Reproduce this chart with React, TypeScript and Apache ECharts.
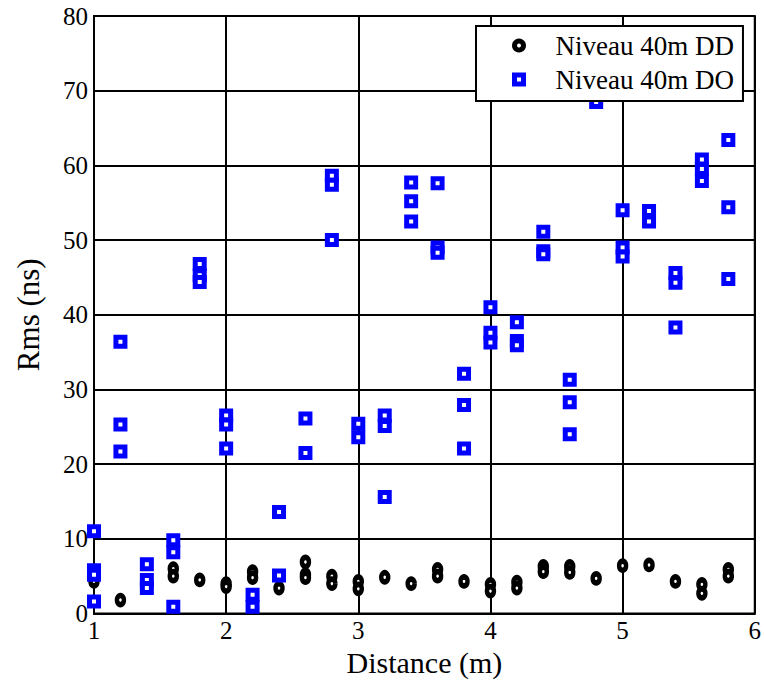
import React, { useEffect, useRef } from "react";
import * as echarts from "echarts";

const xTicks = [1, 2, 3, 4, 5, 6];
const yTicks = [0, 10, 20, 30, 40, 50, 60, 70, 80];

const ddDistance = [1.0, 1.0, 1.2, 1.4, 1.6, 1.6, 1.8, 2.0, 2.0, 2.2, 2.2, 2.4, 2.6, 2.6, 2.6, 2.8, 2.8, 3.0, 3.0, 3.2, 3.4, 3.6, 3.6, 3.8, 4.0, 4.0, 4.2, 4.2, 4.4, 4.4, 4.6, 4.6, 4.8, 5.0, 5.2, 5.4, 5.6, 5.6, 5.8, 5.8];
const ddRms = [5.3, 4.3, 1.8, 4.0, 6.0, 5.0, 4.5, 4.0, 3.6, 5.6, 4.8, 3.4, 6.9, 5.2, 4.8, 5.0, 4.0, 4.3, 3.3, 4.85, 4.0, 5.9, 5.0, 4.3, 3.9, 3.0, 4.2, 3.4, 6.3, 5.6, 6.3, 5.5, 4.7, 6.4, 6.5, 4.3, 3.9, 2.7, 5.9, 5.0];

const doDistance = [1.0, 1.0, 1.0, 1.0, 1.2, 1.2, 1.2, 1.4, 1.4, 1.4, 1.6, 1.6, 1.6, 1.8, 1.8, 1.8, 2.0, 2.0, 2.0, 2.2, 2.2, 2.4, 2.4, 2.6, 2.6, 2.8, 2.8, 2.8, 3.0, 3.0, 3.2, 3.2, 3.2, 3.4, 3.4, 3.4, 3.6, 3.6, 3.6, 3.8, 3.8, 3.8, 4.0, 4.0, 4.0, 4.2, 4.2, 4.2, 4.4, 4.4, 4.4, 4.6, 4.6, 4.6, 4.8, 5.0, 5.0, 5.0, 5.2, 5.2, 5.4, 5.4, 5.4, 5.6, 5.6, 5.6, 5.8, 5.8, 5.8];
const doRms = [11.0, 5.8, 5.2, 1.6, 36.4, 25.3, 21.7, 6.6, 4.5, 3.4, 9.8, 8.2, 0.9, 46.8, 45.3, 44.4, 26.5, 25.3, 22.1, 2.5, 0.9, 13.6, 5.1, 26.1, 21.5, 58.6, 57.4, 50.0, 25.4, 23.6, 26.5, 25.1, 15.6, 57.7, 55.2, 52.5, 57.6, 49.0, 48.3, 32.1, 27.9, 22.1, 41.0, 37.6, 36.3, 39.0, 36.5, 35.9, 51.1, 48.5, 48.1, 31.3, 28.3, 24.0, 68.5, 54.0, 49.0, 47.8, 53.9, 52.5, 45.6, 44.3, 38.3, 60.8, 59.5, 57.9, 63.4, 54.4, 44.8];

const seriesNames = ["Niveau 40m DD", "Niveau 40m DO"];

const FONT = "'Liberation Serif', 'Times New Roman', serif";

export default function App() {
  const ref = useRef<HTMLDivElement>(null);

  useEffect(() => {
    if (!ref.current) return;
    const chart = echarts.init(ref.current, null, { renderer: "svg" });
    const ddData = ddDistance.map((d, i) => [d, ddRms[i]]);
    const doData = doDistance.map((d, i) => [d, doRms[i]]);
    chart.setOption({
      animation: false,
      backgroundColor: "#fff",
      grid: {
        left: 94,
        right: 7,
        top: 16,
        bottom: 74.5,
        show: true,
        borderColor: "#000",
        borderWidth: 2,
        backgroundColor: "transparent",
      },
      legend: {
        left: 476,
        top: 26,
        orient: "vertical",
        backgroundColor: "#fff",
        borderColor: "#000",
        borderWidth: 2,
        borderRadius: 0,
        padding: [6, 9, 8, 36],
        itemWidth: 9,
        itemHeight: 9,
        itemGap: 7,
        textStyle: {
          fontFamily: FONT,
          fontSize: 27,
          color: "#000",
          lineHeight: 26,
          padding: [0, 0, 0, 27],
        },
        data: [
          {
            name: seriesNames[0],
            icon: "circle",
            itemStyle: { color: "#fff", borderColor: "#000", borderWidth: 5 },
          },
          {
            name: seriesNames[1],
            icon: "rect",
            itemStyle: { color: "#fff", borderColor: "#0000ff", borderWidth: 5 },
          },
        ],
      },
      xAxis: {
        type: "value",
        min: xTicks[0],
        max: xTicks[xTicks.length - 1],
        interval: 1,
        name: "Distance (m)",
        nameLocation: "middle",
        nameGap: 34,
        nameTextStyle: { fontFamily: FONT, fontSize: 30, color: "#000" },
        axisLine: { show: true, lineStyle: { color: "#000", width: 2 } },
        axisTick: { show: false },
        axisLabel: {
          fontFamily: FONT,
          fontSize: 25,
          color: "#000",
          margin: 4,
        },
        splitLine: { show: true, lineStyle: { color: "#000", width: 2 } },
      },
      yAxis: {
        type: "value",
        min: yTicks[0],
        max: yTicks[yTicks.length - 1],
        interval: 10,
        name: "Rms (ns)",
        nameLocation: "middle",
        nameGap: 50,
        nameTextStyle: { fontFamily: FONT, fontSize: 31, color: "#000" },
        axisLine: { show: true, lineStyle: { color: "#000", width: 2 } },
        axisTick: { show: false },
        axisLabel: {
          fontFamily: FONT,
          fontSize: 25,
          color: "#000",
          margin: 6,
        },
        splitLine: { show: true, lineStyle: { color: "#000", width: 2 } },
      },
      series: [
        {
          name: seriesNames[0],
          type: "scatter",
          data: ddData,
          symbol: "circle",
          symbolSize: [7, 9],
          itemStyle: { color: "#fff", borderColor: "#000", borderWidth: 5, opacity: 1 },
          emphasis: { disabled: true },
        },
        {
          name: seriesNames[1],
          type: "scatter",
          data: doData,
          symbol: "rect",
          symbolSize: 9,
          itemStyle: { color: "#fff", borderColor: "#0000ff", borderWidth: 5, opacity: 1 },
          emphasis: { disabled: true },
        },
      ],
    });
    return () => chart.dispose();
  }, []);

  return (
    <div
      ref={ref}
      style={{ position: "absolute", left: 0, top: 0, width: 764, height: 688 }}
    />
  );
}
